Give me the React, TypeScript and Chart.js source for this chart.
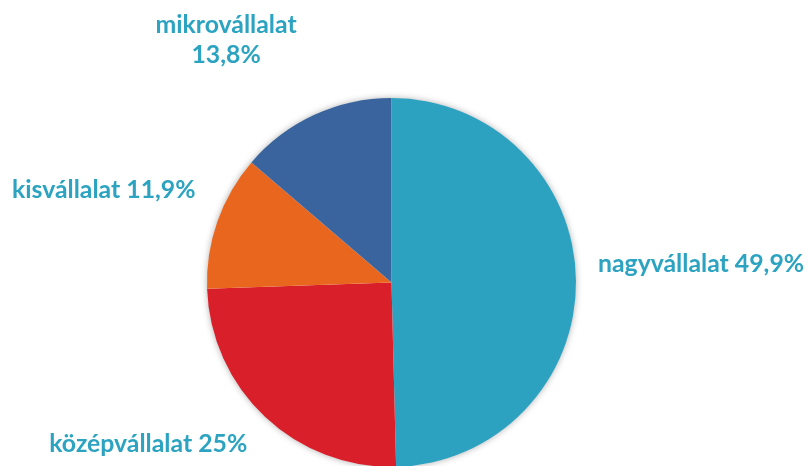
import { useEffect, useRef } from 'react';
import { Chart, registerables } from 'chart.js';

Chart.register(...registerables);

const categories = ['nagyvállalat', 'középvállalat', 'kisvállalat', 'mikrovállalat'];
const shares = [49.9, 25, 11.9, 13.8];
const sliceColors = ['#2CA2C0', '#D91F2A', '#E9661E', '#3A649D'];
const labelColor = '#2BA3C1';

const fmt = (v: number) => String(v).replace('.', ',') + '%';

// label placement relative to the radial point just outside each slice
const placements = [
  { align: 'left', dx: 2, dy: -8, twoLine: false },
  { align: 'right', dx: -4, dy: 21, twoLine: false },
  { align: 'right', dx: -3, dy: -17, twoLine: false },
  { align: 'center', dx: -80, dy: -34, twoLine: true },
];

const labelPlugin = {
  id: 'sliceLabels',
  beforeDatasetsDraw(chart: any) {
    const meta = chart.getDatasetMeta(0);
    const el = meta.data[0];
    if (!el) return;
    const p = el.getProps(['x', 'y', 'outerRadius'], true);
    const ctx = chart.ctx;
    ctx.save();
    ctx.shadowColor = 'rgba(0,0,0,0.35)';
    ctx.shadowBlur = 7;
    ctx.fillStyle = '#ffffff';
    ctx.beginPath();
    ctx.arc(p.x, p.y, p.outerRadius - 0.5, 0, Math.PI * 2);
    ctx.fill();
    ctx.restore();
  },
  afterDatasetsDraw(chart: any) {
    const meta = chart.getDatasetMeta(0);
    const ctx = chart.ctx;
    ctx.save();
    ctx.fillStyle = labelColor;
    ctx.font = 'bold 24.8px Lato';
    ctx.textBaseline = 'alphabetic';
    meta.data.forEach((el: any, i: number) => {
      const p = el.getProps(['x', 'y', 'startAngle', 'endAngle', 'outerRadius'], true);
      const mid = (p.startAngle + p.endAngle) / 2;
      const bx = p.x + Math.cos(mid) * (p.outerRadius + 20);
      const by = p.y + Math.sin(mid) * (p.outerRadius + 20);
      const pl = placements[i];
      ctx.textAlign = pl.align;
      const x = bx + pl.dx;
      const y = by + pl.dy;
      if (pl.twoLine) {
        ctx.fillText(categories[i], x, y - 30);
        ctx.fillText(fmt(shares[i]), x, y);
      } else {
        ctx.fillText(categories[i] + ' ' + fmt(shares[i]), x, y);
      }
    });
    ctx.restore();
  },
};

export default function App() {
  const ref = useRef<HTMLCanvasElement | null>(null);
  useEffect(() => {
    document.body.style.margin = '0';
    document.body.style.overflow = 'hidden';
    document.documentElement.style.overflow = 'hidden';
    const canvas = ref.current;
    if (!canvas) return;
    const chart = new Chart(canvas, {
      type: 'pie',
      data: {
        labels: categories,
        datasets: [
          {
            data: shares,
            backgroundColor: sliceColors,
            borderWidth: 0,
          },
        ],
      },
      options: {
        responsive: false,
        animation: false,
        devicePixelRatio: 1,
        layout: { padding: { left: 207, right: 230, top: 98, bottom: 33 } },
        plugins: {
          legend: { display: false },
          tooltip: { enabled: false },
        },
      },
      plugins: [labelPlugin],
    });
    return () => chart.destroy();
  }, []);
  return (
    <div style={{ width: 806, height: 500, background: '#fff' }}>
      <canvas ref={ref} width={806} height={500} style={{ display: 'block' }} />
    </div>
  );
}
